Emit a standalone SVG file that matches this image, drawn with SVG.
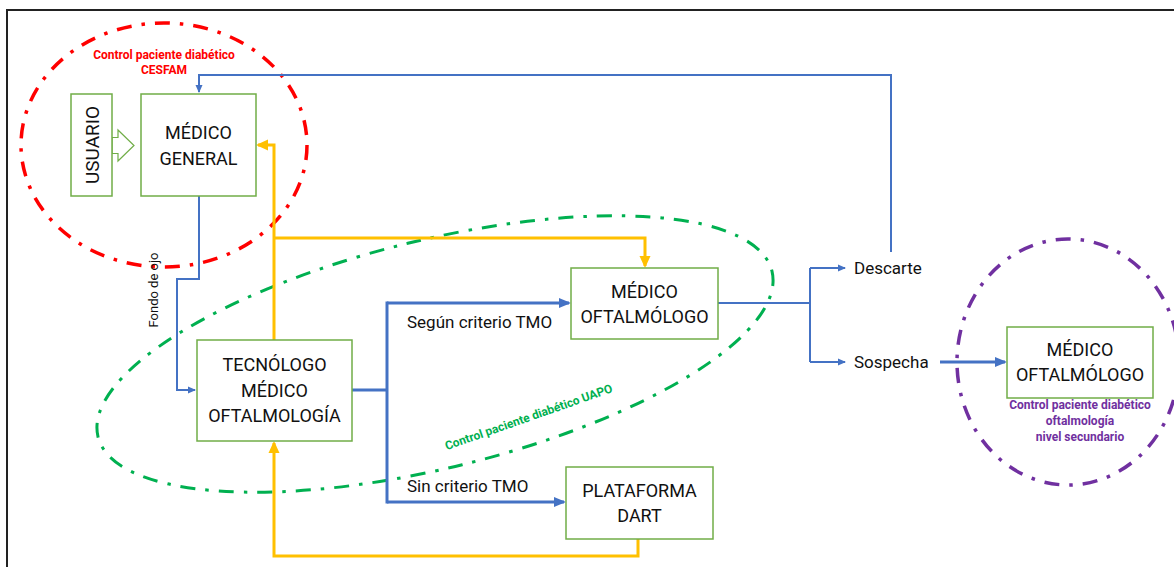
<svg xmlns="http://www.w3.org/2000/svg" width="1174" height="567" viewBox="0 0 1174 567">
<defs>
<style>
.box{fill:#fff;stroke:#70AD47;stroke-width:1.5}
.bt{font-family:Roboto,"Liberation Sans",sans-serif;font-size:18px;fill:#111;text-anchor:middle}
.lbl{font-family:Roboto,"Liberation Sans",sans-serif;font-size:17px;fill:#111}
.sm{font-family:Roboto,"Liberation Sans",sans-serif;font-size:12px;font-weight:bold;text-anchor:middle}
.bl{fill:none;stroke:#4472C4;stroke-width:2}
.bk{fill:none;stroke:#4472C4;stroke-width:3}
.yl{fill:none;stroke:#FFC000;stroke-width:3}
.zone{fill:none;stroke-dasharray:15 10 3.5 10}
</style>
<marker id="aBs" markerUnits="userSpaceOnUse" markerWidth="8" markerHeight="8" viewBox="0 0 8 8" refX="7" refY="4" orient="auto"><path d="M0,0.5 L8,4 L0,7.5 z" fill="#4472C4"/></marker>
<marker id="aBl" markerUnits="userSpaceOnUse" markerWidth="12" markerHeight="12" viewBox="0 0 12 12" refX="10" refY="6" orient="auto"><path d="M0,1 L12,6 L0,11 z" fill="#4472C4"/></marker>
<marker id="aY" markerUnits="userSpaceOnUse" markerWidth="12" markerHeight="12" viewBox="0 0 12 12" refX="10" refY="6" orient="auto"><path d="M0,0.5 L12,6 L0,11.5 z" fill="#FFC000"/></marker>
</defs>
<rect width="1174" height="567" fill="#fff"/>
<path d="M7,567 V10 H1174" fill="none" stroke="#222" stroke-width="2"/>

<g id="zones">
<ellipse class="zone" cx="164" cy="145" rx="143" ry="122" stroke="#FF0000" stroke-width="3.5"/>
<ellipse class="zone" cx="435" cy="354" rx="347" ry="114" transform="rotate(-13.8 435 354)" stroke="#00B050" stroke-width="3"/>
<ellipse class="zone" cx="1068" cy="362" rx="111" ry="123" stroke="#7030A0" stroke-width="3.5"/>
<text class="sm" fill="#FF0000" x="164" y="59">Control paciente diabético</text>
<text class="sm" fill="#FF0000" x="164" y="74">CESFAM</text>
<text class="sm" fill="#00B050" transform="translate(530,421) rotate(-19.3)">Control paciente diabético UAPO</text>
<text class="sm" fill="#7030A0" x="1080" y="409">Control paciente diabético</text>
<text class="sm" fill="#7030A0" x="1080" y="425">oftalmología</text>
<text class="sm" fill="#7030A0" x="1080" y="441">nivel secundario</text>
</g>

<g id="connectors">
<path class="bl" d="M891,252 V75 H199 V92" marker-end="url(#aBs)"/>
<path class="bl" d="M199,196 V279 H177 V390 H195" marker-end="url(#aBs)"/>
<text class="lbl" style="font-size:13px" text-anchor="middle" transform="translate(158,290) rotate(-90)">Fondo de ojo</text>
<path class="yl" d="M274,340 V145 H258" marker-end="url(#aY)"/>
<path class="yl" d="M274,238 H645 V266" marker-end="url(#aY)"/>
<path class="yl" d="M638,539 V556 H274 V443" marker-end="url(#aY)"/>
<path class="bk" d="M352,390 H387"/>
<path class="bk" d="M387,301.5 V503.5"/>
<path class="bk" d="M387,303 H569" marker-end="url(#aBl)"/>
<path class="bk" d="M387,502 H564" marker-end="url(#aBl)"/>
<text class="lbl" x="407" y="328">Según criterio TMO</text>
<text class="lbl" x="407" y="492">Sin criterio TMO</text>
<path class="bl" d="M718,303 H810"/>
<path class="bl" d="M810,268 V362"/>
<path class="bl" d="M810,268 H845" marker-end="url(#aBs)"/>
<path class="bl" d="M810,362 H845" marker-end="url(#aBs)"/>
<path class="bk" d="M940,362 H1005" marker-end="url(#aBl)"/>
<polygon points="112,137.5 118,137.5 118,130 134,145.5 118,161 118,153.5 112,153.5" fill="#fff" stroke="#70AD47" stroke-width="1.2"/>
</g>

<g id="descarte"><text class="lbl" x="854" y="274">Descarte</text></g>
<g id="sospecha"><text class="lbl" x="854" y="368">Sospecha</text></g>

<g id="usuario">
<rect class="box" x="71" y="94" width="41" height="102"/>
<text class="bt" style="font-size:19px" transform="translate(98.5,145) rotate(-90)">USUARIO</text>
</g>

<g id="medico-general">
<rect class="box" x="141" y="94" width="115" height="102"/>
<text class="bt" x="198.5" y="139">MÉDICO</text>
<text class="bt" x="198.5" y="165">GENERAL</text>
</g>

<g id="tecnologo">
<rect class="box" x="197" y="340" width="155" height="101"/>
<text class="bt" x="274.5" y="371">TECNÓLOGO</text>
<text class="bt" x="274.5" y="397">MÉDICO</text>
<text class="bt" x="274.5" y="422">OFTALMOLOGÍA</text>
</g>

<g id="medico-oftalmologo">
<rect class="box" x="571" y="268" width="147" height="71"/>
<text class="bt" x="644.5" y="298">MÉDICO</text>
<text class="bt" x="644.5" y="323">OFTALMÓLOGO</text>
</g>

<g id="plataforma-dart">
<rect class="box" x="566" y="467" width="147" height="72"/>
<text class="bt" x="639.5" y="497">PLATAFORMA</text>
<text class="bt" x="639.5" y="522">DART</text>
</g>

<g id="medico-oftalmologo-2">
<rect class="box" x="1007" y="327" width="146" height="71"/>
<text class="bt" x="1080" y="356">MÉDICO</text>
<text class="bt" x="1080" y="381">OFTALMÓLOGO</text>
</g>
</svg>
